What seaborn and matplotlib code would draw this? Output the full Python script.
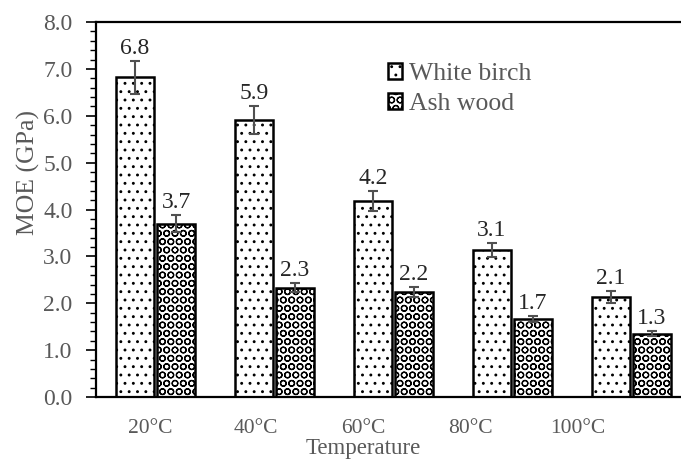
import matplotlib
matplotlib.use("Agg")
import matplotlib.pyplot as plt
import seaborn as sns
import pandas as pd
import numpy as np
from matplotlib.ticker import MultipleLocator
from matplotlib.container import BarContainer

categories = ["20°C", "40°C", "60°C", "80°C", "100°C"]
series = ["White birch", "Ash wood"]
white_birch = [6.82, 5.91, 4.18, 3.13, 2.14]
ash_wood = [3.70, 2.33, 2.24, 1.67, 1.35]
white_birch_err = [0.35, 0.30, 0.21, 0.15, 0.13]
ash_wood_err = [0.18, 0.10, 0.10, 0.06, 0.05]
labels_birch = ["6.8", "5.9", "4.2", "3.1", "2.1"]
labels_ash = ["3.7", "2.3", "2.2", "1.7", "1.3"]

df = pd.DataFrame({
    "Temperature": categories * 2,
    "Species": [series[0]] * 5 + [series[1]] * 5,
    "MOE": white_birch + ash_wood,
})

sns.set_theme(style="white")
plt.rcParams['font.family'] = ['Liberation Serif', 'DejaVu Serif']
plt.rcParams['hatch.linewidth'] = 0.9
plt.rcParams['hatch.color'] = 'black'

fig = plt.figure(figsize=(6.81, 4.59), dpi=100)
ax = fig.add_axes([96 / 681, 62 / 459, 595 / 681, 375 / 459])

sns.barplot(data=df, x="Temperature", y="MOE", hue="Species", order=categories,
            hue_order=series, palette=["white", "white"], width=0.69, gap=0.06,
            edgecolor="black", linewidth=1.8, errorbar=None, ax=ax, legend=True)

hatches = ['..', 'OO']
errs = [white_birch_err, ash_wood_err]
vals = [white_birch, ash_wood]
labs = [labels_birch, labels_ash]
bar_conts = [c for c in ax.containers if isinstance(c, BarContainer)]
for ci, cont in enumerate(bar_conts):
    for bi, patch in enumerate(cont.patches):
        patch.set_hatch(hatches[ci])
        xc = patch.get_x() + patch.get_width() / 2
        v = vals[ci][bi]
        e = errs[ci][bi]
        ax.errorbar(xc, v, yerr=e, color='#505050', capsize=3.5, elinewidth=1.5,
                    capthick=1.5, zorder=5)
        ax.annotate(labs[ci][bi], (xc, v + e), xytext=(0, 1.5), textcoords='offset points',
                    ha='center', va='bottom', fontsize=17, color='#262626')

ax.set_xlim(-0.5, 4.5)
ax.set_ylim(0, 8)
ax.set_yticks(np.arange(0, 8.01, 1.0))
ax.set_yticklabels([f"{t:.1f}" for t in np.arange(0, 8.01, 1.0)])
ax.yaxis.set_minor_locator(MultipleLocator(0.2))
ax.tick_params(axis='y', which='major', direction='out', length=7, width=1.2,
               color='black', labelsize=17, labelcolor='#595959', pad=10, left=True)
ax.tick_params(axis='y', which='minor', direction='out', length=4.5, width=1.0,
               color='black', left=True)

# x tick labels positioned as in reference
label_pos = [-0.04, 0.84, 1.75, 2.65, 3.55]
ax.set_xticks(label_pos)
ax.set_xticklabels(categories)
ax.tick_params(axis='x', length=0, labelsize=15.5, labelcolor='#595959', pad=16)

ax.set_xlabel("Temperature", fontsize=16.5, color='#595959')
ax.xaxis.set_label_coords((363 - 96) / 595, -(438 - 397) / 375)
ax.set_ylabel("MOE (GPa)", fontsize=18.5, color='#595959')
ax.yaxis.set_label_coords((40 - 96) / 595, (397 - 173) / 375)

for s in ['left', 'bottom', 'top']:
    ax.spines[s].set_visible(True)
    ax.spines[s].set_color('black')
    ax.spines[s].set_linewidth(1.6)
ax.spines['right'].set_visible(False)

handles, lbls = ax.get_legend_handles_labels()
for h, hatch in zip(handles, hatches):
    h.set_hatch(hatch)
leg = ax.legend(handles, lbls, loc='upper left', bbox_to_anchor=(378 / 681, 1 - 53 / 459),
                bbox_transform=fig.transFigure, frameon=False, fontsize=18.5,
                handlelength=0.55, handleheight=0.55, handletextpad=0.25, labelspacing=0.3,
                borderaxespad=0)
for t in leg.get_texts():
    t.set_color('#595959')

fig.savefig("out.png", dpi=100)
